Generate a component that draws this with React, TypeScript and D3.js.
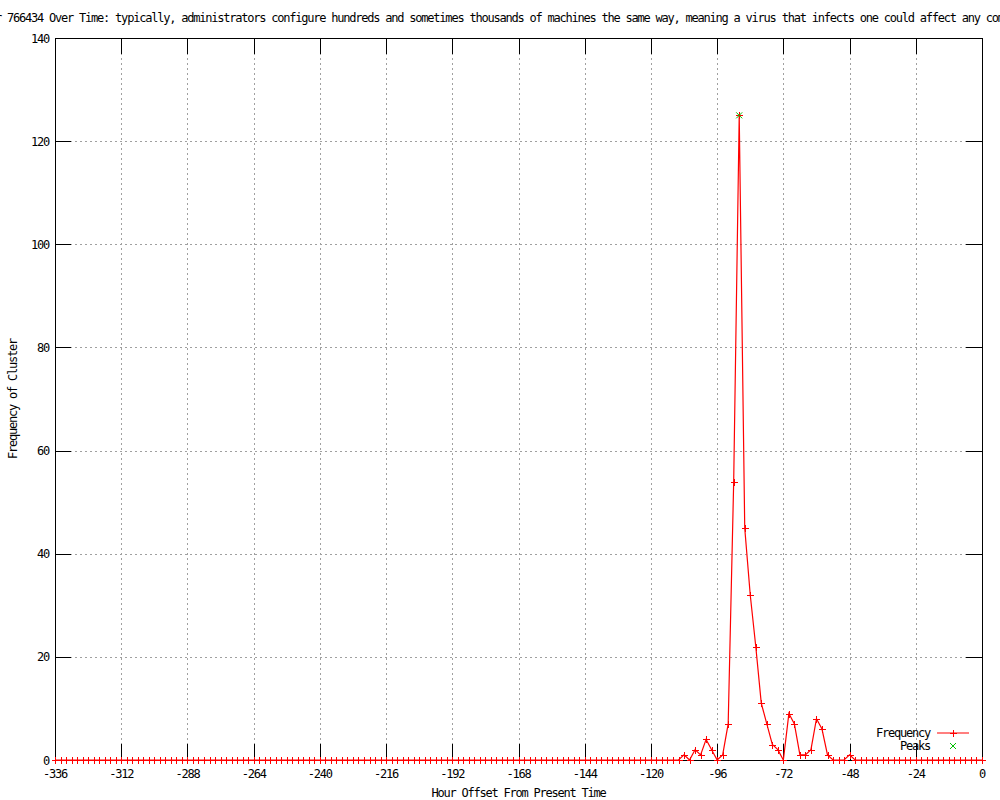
import React from 'react';
import * as d3 from 'd3';

// samples every 2 hours, from -336 to 0
const hours = d3.range(-336, 1, 2);

// one row per day (12 samples), last single value is hour 0
const frequency = [
  0, 0, 0, 0, 0, 0, 0, 0, 0, 0, 0, 0,
  0, 0, 0, 0, 0, 0, 0, 0, 0, 0, 0, 0,
  0, 0, 0, 0, 0, 0, 0, 0, 0, 0, 0, 0,
  0, 0, 0, 0, 0, 0, 0, 0, 0, 0, 0, 0,
  0, 0, 0, 0, 0, 0, 0, 0, 0, 0, 0, 0,
  0, 0, 0, 0, 0, 0, 0, 0, 0, 0, 0, 0,
  0, 0, 0, 0, 0, 0, 0, 0, 0, 0, 0, 0,
  0, 0, 0, 0, 0, 0, 0, 0, 0, 0, 0, 0,
  0, 0, 0, 0, 0, 0, 0, 0, 0, 0, 0, 0,
  0, 0, 0, 0, 0, 0, 1, 0, 2, 1, 4, 2,
  0, 1, 7, 54, 125, 45, 32, 22, 11, 7, 3, 2,
  0, 9, 7, 1, 1, 2, 8, 6, 1, 0, 0, 0,
  1, 0, 0, 0, 0, 0, 0, 0, 0, 0, 0, 0,
  0, 0, 0, 0, 0, 0, 0, 0, 0, 0, 0, 0,
  0,
];

const peakHours = [-88];
const peakValues = [125];

const xTicks = [-336, -312, -288, -264, -240, -216, -192, -168, -144, -120, -96, -72, -48, -24, 0];
const yTicks = [0, 20, 40, 60, 80, 100, 120, 140];

const titleText =
  'Cluster 766434 Over Time: typically, administrators configure hundreds and sometimes thousands of machines the same way, meaning a virus that infects one could affect any computer';
const xTitle = 'Hour Offset From Present Time';
const yTitle = 'Frequency of Cluster';
const legendLabels = ['Frequency', 'Peaks'];

const W = 1000;
const H = 800;
const margin = { top: 38, right: 18, bottom: 40, left: 55 };
const tickLen = 16;
const red = '#ff0000';
const green = '#00c000';

const font = {
  fontFamily: '"DejaVu Sans Mono", monospace',
  fontSize: 12,
  letterSpacing: '-1.22px',
};

function Plus({ cx, cy }: { cx: number; cy: number }) {
  const s = 3.5;
  return (
    <g stroke={red} strokeWidth={1} shapeRendering="crispEdges">
      <line x1={cx - s} x2={cx + s} y1={cy} y2={cy} />
      <line x1={cx} x2={cx} y1={cy - s} y2={cy + s} />
    </g>
  );
}

function Cross({ cx, cy }: { cx: number; cy: number }) {
  const s = 3;
  return (
    <g stroke={green} strokeWidth={1}>
      <line x1={cx - s} x2={cx + s} y1={cy - s} y2={cy + s} />
      <line x1={cx - s} x2={cx + s} y1={cy + s} y2={cy - s} />
    </g>
  );
}

export default function App() {
  const left = margin.left;
  const right = W - margin.right;
  const top = margin.top;
  const bottom = H - margin.bottom;

  const x = d3.scaleLinear().domain([-336, 0]).range([left, right]);
  const y = d3.scaleLinear().domain([0, 140]).range([bottom, top]);

  const points = hours.map((h, i) => [h, frequency[i]] as [number, number]);
  const line = d3
    .line<[number, number]>()
    .x((d) => x(d[0]))
    .y((d) => y(d[1]));

  const legendX = 930;
  const legendY = [733, 746];

  return (
    <svg
      width={W}
      height={H}
      style={{ position: 'absolute', left: 0, top: 0, background: '#fff' }}
      {...font}
    >
      <rect x={0} y={0} width={W} height={H} fill="#fff" />

      {/* grid */}
      <g stroke="#a0a0a0" strokeWidth={1} strokeDasharray="2,3" shapeRendering="crispEdges">
        {xTicks.slice(1, -1).map((t) => (
          <line key={'gx' + t} x1={Math.round(x(t)) + 0.5} x2={Math.round(x(t)) + 0.5} y1={top} y2={bottom} />
        ))}
        {yTicks.slice(1, -1).map((t) => (
          <line key={'gy' + t} x1={left} x2={right} y1={Math.round(y(t)) + 0.5} y2={Math.round(y(t)) + 0.5} />
        ))}
      </g>

      {/* ticks */}
      <g stroke="#000" strokeWidth={1} shapeRendering="crispEdges">
        {xTicks.map((t) => {
          const px = Math.round(x(t)) + 0.5;
          return (
            <g key={'tx' + t}>
              <line x1={px} x2={px} y1={bottom} y2={bottom - tickLen} />
              <line x1={px} x2={px} y1={top} y2={top + tickLen} />
            </g>
          );
        })}
        {yTicks.map((t) => {
          const py = Math.round(y(t)) + 0.5;
          return (
            <g key={'ty' + t}>
              <line x1={left} x2={left + tickLen} y1={py} y2={py} />
              <line x1={right} x2={right - tickLen} y1={py} y2={py} />
            </g>
          );
        })}
      </g>

      {/* frequency line */}
      <path d={line(points) || ''} fill="none" stroke={red} strokeWidth={1.2} />

      {/* border */}
      <rect
        x={left + 0.5}
        y={top + 0.5}
        width={right - left}
        height={bottom - top}
        fill="none"
        stroke="#000"
        strokeWidth={1}
        shapeRendering="crispEdges"
      />

      {/* markers */}
      {points.map((d) => (
        <Plus key={'p' + d[0]} cx={Math.round(x(d[0])) + 0.5} cy={Math.round(y(d[1])) + 0.5} />
      ))}
      {peakHours.map((h, i) => (
        <Cross key={'pk' + h} cx={x(h)} cy={y(peakValues[i])} />
      ))}

      {/* tick labels */}
      <g fill="#000">
        {xTicks.map((t) => (
          <text key={'lx' + t} x={x(t)} y={bottom + 18} textAnchor="middle">
            {t}
          </text>
        ))}
        {yTicks.map((t) => (
          <text key={'ly' + t} x={left - 6} y={y(t) + 4.5} textAnchor="end">
            {t}
          </text>
        ))}
      </g>

      {/* titles */}
      <text x={-41} y={22} fill="#000">
        {titleText}
      </text>
      <text x={(left + right) / 2} y={797} textAnchor="middle" fill="#000">
        {xTitle}
      </text>
      <text
        transform={`translate(17, ${(top + bottom) / 2}) rotate(-90)`}
        textAnchor="middle"
        fill="#000"
      >
        {yTitle}
      </text>

      {/* legend */}
      <g fill="#000">
        <text x={legendX} y={legendY[0] + 4} textAnchor="end">
          {legendLabels[0]}
        </text>
        <text x={legendX} y={legendY[1] + 4} textAnchor="end">
          {legendLabels[1]}
        </text>
      </g>
      <path
        d={line([[-24 + 7.7, 0], [-24 + 19.3, 0]]) || ''}
        transform={`translate(0, ${legendY[0] - bottom})`}
        stroke={red}
        strokeWidth={1.2}
        fill="none"
      />
      <Plus cx={953.5} cy={legendY[0] + 0.5} />
      <Cross cx={953} cy={legendY[1]} />
    </svg>
  );
}
